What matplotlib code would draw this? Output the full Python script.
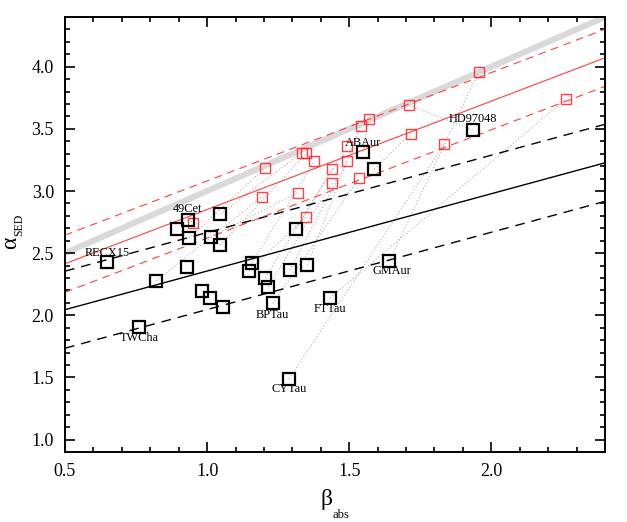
import numpy as np
import matplotlib
matplotlib.use("Agg")
import matplotlib.pyplot as plt
from matplotlib.ticker import MultipleLocator

plt.rcParams['font.family'] = ['Liberation Serif', 'DejaVu Serif']

# observed (black) points
obs_beta = [0.647, 0.761, 0.819, 0.932, 0.895, 0.936, 1.012, 1.046, 1.046, 1.314,
            0.929, 1.157, 1.148, 0.983, 1.009, 1.055, 1.205, 1.215, 1.231, 1.291,
            1.353, 1.432, 1.288, 1.640, 1.550, 1.588, 1.934]
obs_alpha = [2.425, 1.906, 2.275, 2.765, 2.698, 2.620, 2.628, 2.813, 2.564, 2.698,
             2.390, 2.420, 2.358, 2.193, 2.137, 2.069, 2.302, 2.230, 2.096, 2.366,
             2.406, 2.137, 1.487, 2.433, 3.316, 3.176, 3.489]
obs_names = ['RECX15', 'TWCha', '', '49Cet', '', '', '', '', '', '',
             '', '', '', '', '', '', '', '', 'BPTau', '',
             '', 'FTTau', 'CYTau', 'GMAur', 'ABAur', '', 'HD97048']

# corrected (red) points
cor_beta = [0.952, 1.204, 1.194, 1.319, 1.333, 1.349, 1.377, 1.441, 1.439, 1.348,
            1.493, 1.540, 1.568, 1.493, 1.536, 1.709, 1.716, 1.835, 1.955, 2.262]
cor_alpha = [2.746, 3.187, 2.955, 2.987, 3.308, 3.302, 3.238, 3.179, 3.067, 2.794,
             3.366, 3.527, 3.580, 3.238, 3.107, 3.693, 3.462, 3.380, 3.954, 3.741]

# pairs (observed index, corrected index) joined by dotted lines
pairs = [(26, 15), (23, 18), (22, 17), (21, 19), (24, 12), (25, 16), (3, 0),
         (18, 14), (20, 11), (19, 13), (9, 10), (16, 7), (17, 8), (11, 6),
         (12, 9), (7, 4), (8, 5), (6, 3), (5, 1), (2, 2)]

# fitted relations: (intercept at beta=0.5, slope)
black_fit = (2.045, 0.622)
black_off = 0.31
red_fit = (2.415, 0.872)
red_off = 0.23
gray_fit = (2.5, 1.0)

W, H = 627, 522
fig = plt.figure(figsize=(W / 100, H / 100), dpi=100)
ax = fig.add_axes([65 / W, 70 / H, 540 / W, 435 / H])

xx = np.array([0.5, 2.4])
def line(fit, off=0.0):
    return fit[0] + off + fit[1] * (xx - 0.5)

ax.plot(xx, line(gray_fit), color='#d9d9d9', lw=4.4, solid_capstyle='butt', zorder=1)
ax.plot(xx, line(black_fit), color='black', lw=1.0, zorder=2)
ax.plot(xx, line(black_fit, black_off), color='black', lw=1.0, dashes=(7, 5), zorder=2)
ax.plot(xx, line(black_fit, -black_off), color='black', lw=1.0, dashes=(7, 5), zorder=2)
ax.plot(xx, line(red_fit), color='#ff4040', lw=0.8, zorder=2)
ax.plot(xx, line(red_fit, red_off), color='#ff4040', lw=0.8, dashes=(7, 5), zorder=2)
ax.plot(xx, line(red_fit, -red_off), color='#ff4040', lw=0.8, dashes=(7, 5), zorder=2)

for i, j in pairs:
    ax.plot([obs_beta[i], cor_beta[j]], [obs_alpha[i], cor_alpha[j]],
            color='#b0b0b0', lw=0.8, ls=(0, (1, 2)), zorder=1.5)

ax.plot(cor_beta, cor_alpha, ls='none', marker='s', ms=6.8, mfc='none',
        mec='#ff2020', mew=1.0, alpha=0.85, zorder=3)
ax.plot(obs_beta, obs_alpha, ls='none', marker='s', ms=8.6, mfc='none',
        mec='black', mew=1.6, zorder=4)

label_offsets = {
    'RECX15': (0.0, 0.08), 'TWCha': (0.0, -0.09), '49Cet': (0.0, 0.09),
    'BPTau': (0.0, -0.09), 'FTTau': (0.0, -0.09), 'CYTau': (0.0, -0.08),
    'GMAur': (0.01, -0.08), 'ABAur': (0.0, 0.07), 'HD97048': (0.0, 0.09),
}
for b, a, n in zip(obs_beta, obs_alpha, obs_names):
    if n:
        dx, dy = label_offsets[n]
        ax.text(b + dx, a + dy, n, fontsize=8.8, ha='center', va='center', zorder=5)

ax.set_xlim(0.5, 2.4)
ax.set_ylim(0.9, 4.4)
ax.xaxis.set_major_locator(MultipleLocator(0.5))
ax.xaxis.set_minor_locator(MultipleLocator(0.1))
ax.yaxis.set_major_locator(MultipleLocator(0.5))
ax.yaxis.set_minor_locator(MultipleLocator(0.1))
ax.xaxis.set_major_formatter(plt.FormatStrFormatter('%.1f'))
ax.yaxis.set_major_formatter(plt.FormatStrFormatter('%.1f'))
ax.tick_params(which='both', direction='in', top=True, right=True, width=1.2, labelsize=13)
ax.tick_params(which='major', length=7, pad=8)
ax.tick_params(which='minor', length=3.5)
for s in ax.spines.values():
    s.set_linewidth(1.4)

# axis labels with low-set subscripts
fig.text(326 / W, 1 - 500 / H, 'β', fontsize=17, ha='center', va='center')
fig.text(341 / W, 1 - 515 / H, 'abs', fontsize=9, ha='center', va='center')
fig.text(11 / W, 1 - 243 / H, 'α', fontsize=17, rotation=90, ha='center', va='center')
fig.text(19.5 / W, 1 - 225 / H, 'SED', fontsize=8.5, rotation=90, ha='center', va='center')

fig.savefig('out.png', dpi=100)
